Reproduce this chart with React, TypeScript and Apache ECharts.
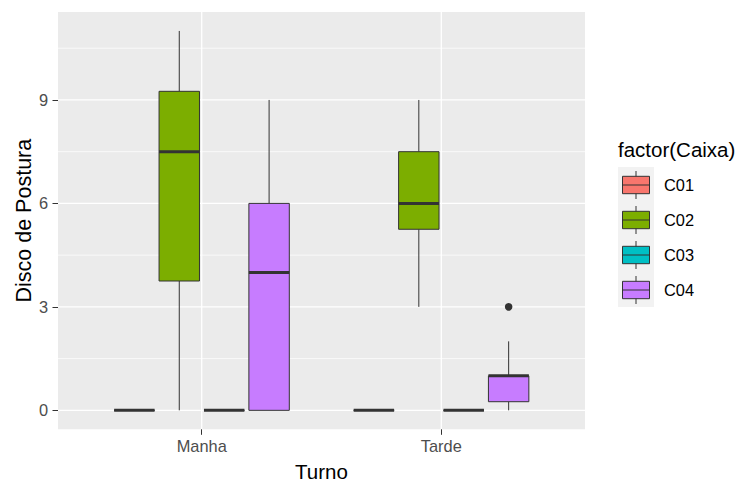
import React, { useEffect, useRef } from "react";
import * as echarts from "echarts";

// Categories
const turnos = ["Manha", "Tarde"];
const caixas = ["C01", "C02", "C03", "C04"];
const caixaColors = ["#F8766D", "#7CAE00", "#00BFC4", "#C77CFF"];

// Box stats per caixa: [turnoIndex(1-based), min, q1, median, q3, max]
const boxC01 = [
  [1, 0, 0, 0, 0, 0],
  [2, 0, 0, 0, 0, 0],
];
const boxC02 = [
  [1, 0, 3.75, 7.5, 9.25, 11],
  [2, 3, 5.25, 6, 7.5, 9],
];
const boxC03 = [
  [1, 0, 0, 0, 0, 0],
  [2, 0, 0, 0, 0, 0],
];
const boxC04 = [
  [1, 0, 0, 4, 6, 9],
  [2, 0, 0.25, 1, 1, 2],
];
const boxData = [boxC01, boxC02, boxC03, boxC04];

// Outliers: [turnoIndex, caixaIndex, value]
const outliers = [[2, 3, 3]];

// Axis breaks
const yBreaks = [0, 3, 6, 9];
const yMinorBreaks = [1.5, 4.5, 7.5, 10.5];
const xBreaks = [1, 2];

const FONT = "'Liberation Sans', Arial, sans-serif";
const DODGE = 0.1875;
const BOX_FRAC = 0.9;

export default function App() {
  const ref = useRef<HTMLDivElement>(null);

  useEffect(() => {
    if (!ref.current) return;
    const chart = echarts.init(ref.current, null, { renderer: "svg" });

    const gridLineSeries = (vals: number[], dir: "h" | "v", width: number) => ({
      type: "custom",
      silent: true,
      z: 0,
      data: vals.map((v) => [v]),
      renderItem: (params: any, api: any) => {
        const cs = params.coordSys;
        const v = api.value(0);
        if (dir === "h") {
          const y = api.coord([1, v])[1];
          return {
            type: "line",
            shape: { x1: cs.x, y1: y, x2: cs.x + cs.width, y2: y },
            style: { stroke: "#FFFFFF", lineWidth: width },
          };
        }
        const x = api.coord([v, 0])[0];
        return {
          type: "line",
          shape: { x1: x, y1: cs.y, x2: x, y2: cs.y + cs.height },
          style: { stroke: "#FFFFFF", lineWidth: width },
        };
      },
    });

    const boxSeries = boxData.map((data, k) => ({
      type: "custom",
      name: caixas[k],
      z: 2,
      data,
      renderItem: (_params: any, api: any) => {
        const xi = api.value(0);
        const xc = xi + (k - 1.5) * DODGE;
        const cx = api.coord([xc, 0])[0];
        const half = api.size([DODGE * BOX_FRAC, 0])[0] / 2;
        const yMin = api.coord([xc, api.value(1)])[1];
        const yQ1 = api.coord([xc, api.value(2)])[1];
        const yMed = api.coord([xc, api.value(3)])[1];
        const yQ3 = api.coord([xc, api.value(4)])[1];
        const yMax = api.coord([xc, api.value(5)])[1];
        const stroke = "#333333";
        return {
          type: "group",
          children: [
            {
              type: "line",
              shape: { x1: cx, y1: yQ3, x2: cx, y2: yMax },
              style: { stroke, lineWidth: 1 },
            },
            {
              type: "line",
              shape: { x1: cx, y1: yQ1, x2: cx, y2: yMin },
              style: { stroke, lineWidth: 1 },
            },
            {
              type: "rect",
              shape: { x: cx - half, y: yQ3, width: half * 2, height: yQ1 - yQ3 },
              style: { fill: caixaColors[k], stroke, lineWidth: 1 },
            },
            {
              type: "line",
              shape: { x1: cx - half, y1: yMed, x2: cx + half, y2: yMed },
              style: { stroke, lineWidth: 3 },
            },
          ],
        };
      },
    }));

    const outlierSeries = {
      type: "custom",
      z: 3,
      data: outliers,
      renderItem: (_params: any, api: any) => {
        const xi = api.value(0);
        const k = api.value(1);
        const xc = xi + (k - 1.5) * DODGE;
        const p = api.coord([xc, api.value(2)]);
        return {
          type: "circle",
          shape: { cx: p[0], cy: p[1], r: 3.8 },
          style: { fill: "#333333" },
        };
      },
    };

    // Legend drawn with graphic elements
    const legendX = 618;
    const keyTop = 167;
    const keyH = 35;
    const keyW = 36;
    const legendChildren: any[] = [
      {
        type: "text",
        x: legendX,
        y: 149,
        style: {
          text: "factor(Caixa)",
          fontSize: 20.5,
          fontFamily: FONT,
          fill: "#000000",
          verticalAlign: "middle",
          align: "left",
        },
      },
      {
        type: "rect",
        shape: { x: legendX, y: keyTop, width: keyW, height: keyH * caixas.length },
        style: { fill: "#F2F2F2" },
      },
    ];
    caixas.forEach((c, i) => {
      const cy = keyTop + keyH * i + keyH / 2 + 0.5;
      const cx = legendX + keyW / 2;
      legendChildren.push(
        {
          type: "line",
          shape: { x1: cx, y1: cy - 14, x2: cx, y2: cy + 14 },
          style: { stroke: "#333333", lineWidth: 1 },
        },
        {
          type: "rect",
          shape: { x: cx - 13.5, y: cy - 8.7, width: 27, height: 17.4 },
          style: { fill: caixaColors[i], stroke: "#333333", lineWidth: 1 },
        },
        {
          type: "line",
          shape: { x1: cx - 13.5, y1: cy, x2: cx + 13.5, y2: cy },
          style: { stroke: "#333333", lineWidth: 1 },
        },
        {
          type: "text",
          x: 664,
          y: cy,
          style: {
            text: c,
            fontSize: 16.4,
            fontFamily: FONT,
            fill: "#000000",
            verticalAlign: "middle",
            align: "left",
          },
        }
      );
    });

    chart.setOption({
      animation: false,
      backgroundColor: "#FFFFFF",
      textStyle: { fontFamily: FONT },
      grid: {
        left: 58,
        right: 159,
        top: 12,
        bottom: 51.7,
        show: true,
        backgroundColor: "#EBEBEB",
        borderWidth: 0,
        containLabel: false,
        outerBoundsMode: "none",
      },
      xAxis: {
        type: "value",
        min: 0.4,
        max: 2.6,
        name: "Turno",
        nameLocation: "middle",
        nameGap: 32,
        nameMoveOverlap: false,
        nameTextStyle: { fontSize: 20.5, color: "#000000", fontFamily: FONT },
        axisLine: { show: false, onZero: false },
        axisTick: {
          show: true,
          customValues: xBreaks,
          length: 5.5,
          lineStyle: { color: "#333333", width: 1 },
        },
        axisLabel: {
          customValues: xBreaks,
          margin: 9,
          fontSize: 16.4,
          color: "#4D4D4D",
          fontFamily: FONT,
          formatter: (v: number) => turnos[Math.round(v) - 1] ?? "",
        },
        splitLine: { show: false },
      },
      yAxis: {
        type: "value",
        min: -0.55,
        max: 11.55,
        name: "Disco de Postura",
        nameLocation: "middle",
        nameGap: 23,
        nameMoveOverlap: false,
        nameRotate: 90,
        nameTextStyle: { fontSize: 21.5, color: "#000000", fontFamily: FONT },
        axisLine: { show: false, onZero: false },
        axisTick: {
          show: true,
          customValues: yBreaks,
          length: 5.5,
          lineStyle: { color: "#333333", width: 1 },
        },
        axisLabel: {
          customValues: yBreaks,
          margin: 10,
          fontSize: 16.4,
          color: "#4D4D4D",
          fontFamily: FONT,
        },
        splitLine: { show: false },
      },
      series: [
        gridLineSeries(yMinorBreaks, "h", 0.7),
        gridLineSeries(yBreaks, "h", 1.3),
        gridLineSeries(xBreaks, "v", 1.3),
        ...boxSeries,
        outlierSeries,
      ],
      graphic: [{ type: "group", children: legendChildren }],
    });

    return () => chart.dispose();
  }, []);

  return (
    <div
      ref={ref}
      style={{ position: "fixed", left: 0, top: 0, width: 744, height: 481 }}
    />
  );
}
